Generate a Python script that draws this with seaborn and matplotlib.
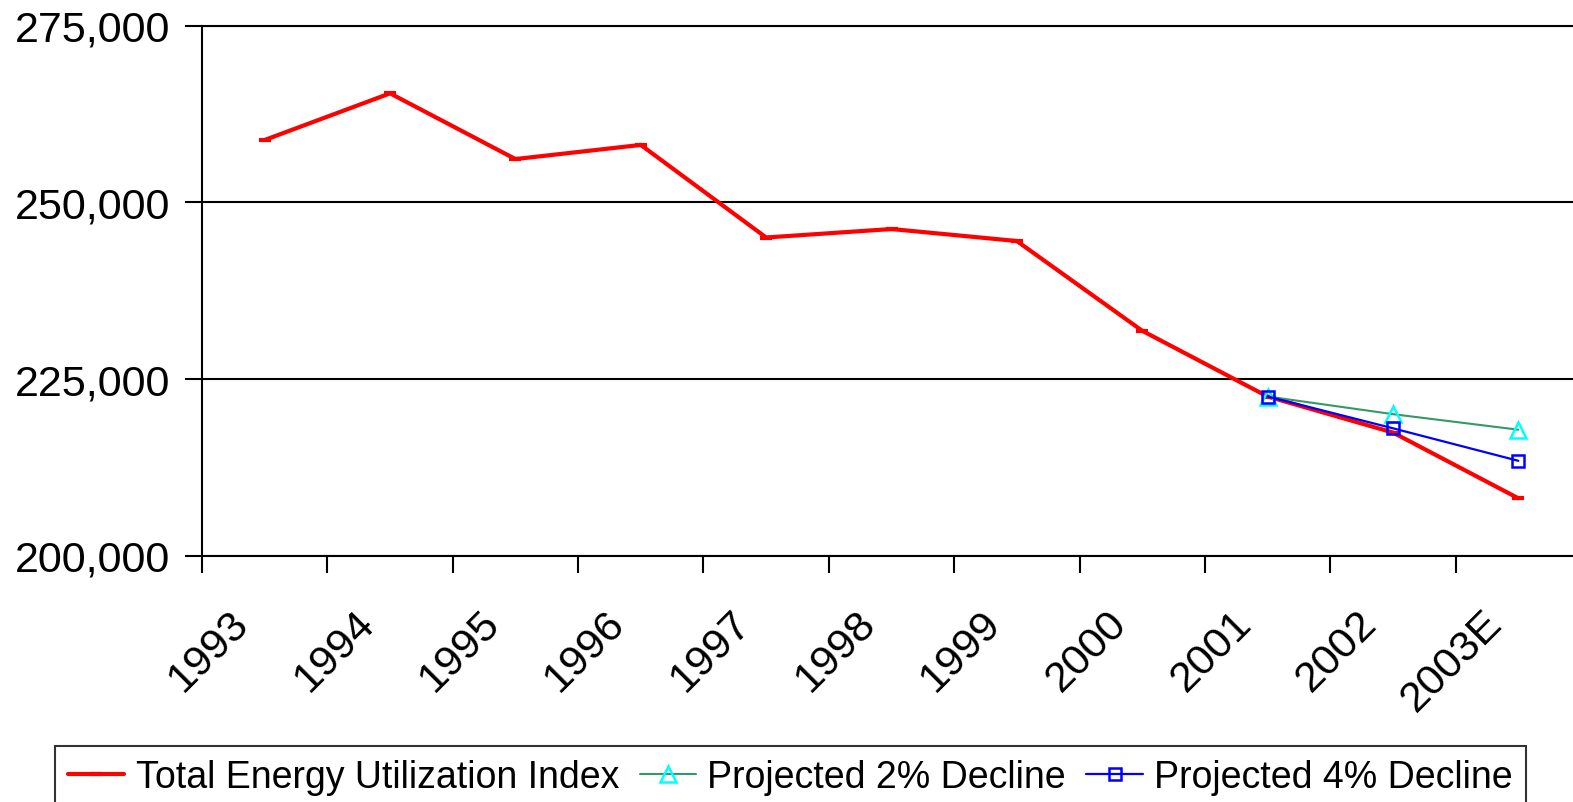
import numpy as np
import pandas as pd
import matplotlib
matplotlib.use("Agg")
import matplotlib.pyplot as plt
import matplotlib.transforms as mtransforms
from matplotlib.ticker import FuncFormatter, FixedLocator
import seaborn as sns

years = ["1993", "1994", "1995", "1996", "1997", "1998", "1999",
         "2000", "2001", "2002", "2003E"]
total_index = [258800, 265400, 256100, 258100, 245000, 246200, 244500,
               231800, 222500, 217400, 208100]

proj_years = ["2001", "2002", "2003E"]
proj_2pct = [222500, 220000, 217800]
proj_4pct = [222500, 218000, 213400]

y_ticks = [200000, 225000, 250000, 275000]

sns.set_theme(style="white")
plt.rcParams["font.family"] = ["Liberation Sans", "DejaVu Sans"]
plt.rcParams["text.color"] = "black"

W, H, DPI = 1573, 803, 100
fig = plt.figure(figsize=(W / DPI, H / DPI), dpi=DPI)
left_px, right_px, top_px, bottom_px = 202, 1581, 26.5, 556.5
ax = fig.add_axes([left_px / W, 1 - bottom_px / H,
                   (right_px - left_px) / W, (bottom_px - top_px) / H])

pos = {y: i for i, y in enumerate(years)}
df_total = pd.DataFrame({"x": [pos[y] for y in years], "v": total_index})
df_2 = pd.DataFrame({"x": [pos[y] for y in proj_years], "v": proj_2pct})
df_4 = pd.DataFrame({"x": [pos[y] for y in proj_years], "v": proj_4pct})

sns.lineplot(data=df_total, x="x", y="v", ax=ax, color="#FF0000", lw=3.0,
             marker="_", markersize=9, markeredgewidth=3, markeredgecolor="#FF0000",
             label="Total Energy Utilization Index", zorder=3)
sns.lineplot(data=df_2, x="x", y="v", ax=ax, color="#339966", lw=1.5,
             marker="^", markersize=11, markerfacecolor="none",
             markeredgecolor="#00FFFF", markeredgewidth=1.8,
             label="Projected 2% Decline", zorder=4)
sns.lineplot(data=df_4, x="x", y="v", ax=ax, color="#0000FF", lw=1.6,
             marker="s", markersize=9, markerfacecolor="none",
             markeredgecolor="#0000FF", markeredgewidth=1.8,
             label="Projected 4% Decline", zorder=5)

ax.set_xlim(-0.5, len(years) - 0.5)
ax.set_ylim(y_ticks[0], y_ticks[-1])
ax.set_xlabel("")
ax.set_ylabel("")

# y axis
ax.yaxis.set_major_locator(FixedLocator(y_ticks))
ax.yaxis.set_major_formatter(FuncFormatter(lambda v, p: f"{int(v):,}"))
ax.tick_params(axis="y", which="major", length=12, width=1.5, color="black",
               labelsize=31, pad=11, labelcolor="black", left=True)
ax.grid(axis="y", color="black", lw=1.5)
ax.grid(axis="x", visible=False)

# x axis: labels on categories, tick marks on boundaries
ax.set_xticks(range(len(years)))
ax.set_xticklabels(years)
ax.set_xticks(np.arange(-0.5, len(years), 1.0), minor=True)
ax.tick_params(axis="x", which="major", length=0, labelsize=31, pad=34,
               labelcolor="black")
ax.tick_params(axis="x", which="minor", length=12, width=1.5, color="black",
               bottom=True)
offset = mtransforms.ScaledTranslation(-26 / 72, 0, fig.dpi_scale_trans)
for lab in ax.get_xticklabels():
    lab.set_rotation(45)
    lab.set_ha("right")
    lab.set_va("top")
    lab.set_rotation_mode("anchor")
    lab.set_transform(lab.get_transform() + offset)

for side in ("left", "bottom", "top"):
    ax.spines[side].set_visible(True)
    ax.spines[side].set_color("black")
    ax.spines[side].set_linewidth(1.5)
ax.spines["right"].set_visible(False)
ax.set_facecolor("white")
fig.patch.set_facecolor("white")

leg = ax.legend(loc="upper left", bbox_to_anchor=(55 / W, 1 - 747 / H),
                bbox_transform=fig.transFigure, ncol=3, fontsize=27,
                frameon=True, fancybox=False, edgecolor="black",
                handlelength=1.5, handletextpad=0.3, columnspacing=0.55,
                borderpad=0.35, borderaxespad=0)
leg.get_frame().set_linewidth(1.5)
for t in leg.get_texts():
    t.set_color("black")

fig.savefig("out.png", dpi=DPI)
